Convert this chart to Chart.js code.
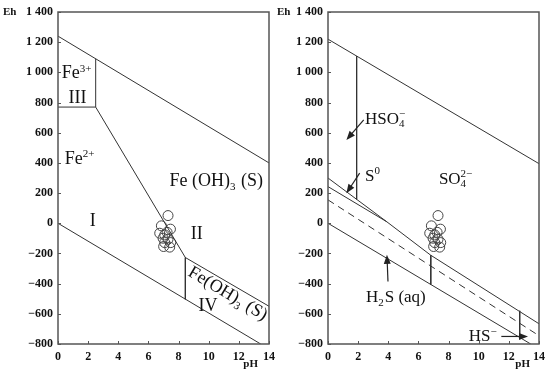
<!DOCTYPE html>
<html>
<head>
<meta charset="utf-8">
<script src="https://cdn.jsdelivr.net/npm/chart.js@4.4.1/dist/chart.umd.min.js"></script>
<style>
  html, body { margin: 0; padding: 0; background: #fff; }
  .wrap { position: relative; width: 550px; height: 379px; }
  canvas { position: absolute; top: 0; }
</style>
</head>
<body>
<div class="wrap">
  <canvas id="leftChart" width="275" height="379" style="left:0"></canvas>
  <canvas id="rightChart" width="275" height="379" style="left:275px"></canvas>
</div>
<script>
// axis ticks
const phTicks = [0, 2, 4, 6, 8, 10, 12, 14];
const ehTicks = [-800, -600, -400, -200, 0, 200, 400, 600, 800, 1000, 1200, 1400];

// sample points (pH, Eh in mV)
const samplePH = [7.3, 6.86, 7.46, 6.75, 7.08, 6.97, 7.3, 7.08, 7.48, 7.41, 7.01, 7.24];
const sampleEh = [51, -17, -39, -66, -77, -99, -106, -128, -128, -158, -154, -60];

// Fe system boundaries [pH, Eh]
const feUpperWater = [[0, 1240], [14, 400]];
const feLowerWater = [[0, 0], [13.45, -800]];
const fe3Box = [[0, 770], [2.5, 770], [2.5, 1090]];
const fe2Boundary = [[2.5, 770], [8.45, -227], [14, -550]];
const feVertical = [[8.45, -227], [8.45, -504]];

// S system boundaries [pH, Eh]
const sUpperWater = [[0, 1220], [14, 395]];
const sLowerWater = [[0, 0], [13.45, -800]];
const hso4Boundary = [[1.9, 1108], [1.9, 159]];
const s0Upper = [[0, 300], [3.9, 10]];
const s0Lower = [[0, 243], [3.9, 10], [6.82, -212], [14, -666]];
const sDashed = [[0, 155], [14, -745]];
const h2sVertical = [[6.82, -212], [6.82, -406]];
const hsVertical = [[12.72, -580], [12.72, -758]];

const LINE = '#333';
const SERIF = '"Liberation Serif", "DejaVu Serif", serif';

function lineSet(pts, dash) {
    return {
        data: pts.map(p => ({ x: p[0], y: p[1] })),
        showLine: true,
        borderColor: LINE,
        borderWidth: 1,
        borderDash: dash || [],
        pointRadius: 0,
        fill: false
    };
}

function sampleSet() {
    return {
        data: samplePH.map((x, i) => ({ x: x, y: sampleEh[i] })),
        showLine: false,
        pointRadius: 5,
        pointBorderColor: '#444',
        pointBackgroundColor: 'rgba(0,0,0,0)',
        pointBorderWidth: 1
    };
}

function fmtEh(v) {
    let s = String(Math.abs(v));
    if (s.length > 3) s = s.slice(0, -3) + ' ' + s.slice(-3);
    return (v < 0 ? '\u2212' : '') + s;
}

// text with _{sub} and ^{sup}; sub directly followed by sup is stacked
function drawRich(ctx, str, x, y, size, align) {
    const parts = [];
    let i = 0;
    while (i < str.length) {
        if ((str[i] === '_' || str[i] === '^') && str[i + 1] === '{') {
            const end = str.indexOf('}', i);
            parts.push({ t: str.slice(i + 2, end), k: str[i] });
            i = end + 1;
        } else {
            let j = i;
            while (j < str.length && !((str[j] === '_' || str[j] === '^') && str[j + 1] === '{')) j++;
            parts.push({ t: str.slice(i, j), k: 'n' });
            i = j;
        }
    }
    const big = size + 'px ' + SERIF;
    const small = Math.round(size * 0.62) + 'px ' + SERIF;
    const items = [];
    for (let k = 0; k < parts.length; k++) {
        const p = parts[k];
        if (p.k === 'n') {
            ctx.font = big;
            items.push({ w: ctx.measureText(p.t).width, segs: [{ t: p.t, f: big, dy: 0 }] });
        } else {
            ctx.font = small;
            const segs = [{ t: p.t, f: small, dy: p.k === '_' ? size * 0.22 : -size * 0.36 }];
            let w = ctx.measureText(p.t).width;
            if (p.k === '_' && parts[k + 1] && parts[k + 1].k === '^') {
                const q = parts[k + 1];
                segs.push({ t: q.t, f: small, dy: -size * 0.36 });
                w = Math.max(w, ctx.measureText(q.t).width);
                k++;
            }
            items.push({ w: w + 1, segs: segs });
        }
    }
    const total = items.reduce((a, it) => a + it.w, 0);
    let cx = align === 'left' ? x : align === 'right' ? x - total : x - total / 2;
    const base = y + size * 0.33;
    ctx.textAlign = 'left';
    ctx.textBaseline = 'alphabetic';
    items.forEach(it => {
        it.segs.forEach(s => {
            ctx.font = s.f;
            ctx.fillText(s.t, cx, base + s.dy);
        });
        cx += it.w;
    });
}

function drawArrow(ctx, x1, y1, x2, y2) {
    const a = Math.atan2(y2 - y1, x2 - x1);
    ctx.beginPath();
    ctx.moveTo(x1, y1);
    ctx.lineTo(x2 - 6 * Math.cos(a), y2 - 6 * Math.sin(a));
    ctx.stroke();
    ctx.beginPath();
    ctx.moveTo(x2, y2);
    ctx.lineTo(x2 - 9 * Math.cos(a) + 3.5 * Math.sin(a), y2 - 9 * Math.sin(a) - 3.5 * Math.cos(a));
    ctx.lineTo(x2 - 9 * Math.cos(a) - 3.5 * Math.sin(a), y2 - 9 * Math.sin(a) + 3.5 * Math.cos(a));
    ctx.closePath();
    ctx.fill();
}

function decor(cfg) {
    return {
        id: 'decor',
        afterDatasetsDraw(chart) {
            const ctx = chart.ctx;
            const a = chart.chartArea;
            const xs = chart.scales.x, ys = chart.scales.y;
            ctx.save();
            // frame
            ctx.strokeStyle = '#555';
            ctx.lineWidth = 1.5;
            ctx.strokeRect(a.left, a.top, a.right - a.left, a.bottom - a.top);
            // inward tick marks
            ctx.lineWidth = 1;
            ctx.beginPath();
            phTicks.forEach(v => {
                const px = Math.round(xs.getPixelForValue(v)) + 0.5;
                ctx.moveTo(px, a.bottom);
                ctx.lineTo(px, a.bottom - 3);
            });
            ehTicks.forEach(v => {
                const py = Math.round(ys.getPixelForValue(v)) + 0.5;
                ctx.moveTo(a.left, py);
                ctx.lineTo(a.left + 3, py);
            });
            ctx.stroke();
            // axis names
            ctx.fillStyle = '#111';
            ctx.font = 'bold 11px ' + SERIF;
            ctx.textBaseline = 'middle';
            ctx.textAlign = 'left';
            ctx.fillText('Eh', cfg.ehX, a.top);
            ctx.textAlign = 'right';
            ctx.fillText('pH', a.right - cfg.phGap, a.bottom + 20);
            // region labels
            ctx.fillStyle = '#111';
            cfg.labels.forEach(l => {
                const px = xs.getPixelForValue(l.ph), py = ys.getPixelForValue(l.eh);
                if (l.rot) {
                    ctx.save();
                    ctx.translate(px, py);
                    ctx.rotate(l.rot * Math.PI / 180);
                    drawRich(ctx, l.text, 0, 0, cfg.size, 'center');
                    ctx.restore();
                } else {
                    drawRich(ctx, l.text, px, py, cfg.size, l.align || 'center');
                }
            });
            // arrows
            ctx.strokeStyle = '#222';
            ctx.fillStyle = '#222';
            ctx.lineWidth = 1.2;
            cfg.arrows.forEach(r => {
                drawArrow(ctx, xs.getPixelForValue(r[0]), ys.getPixelForValue(r[1]),
                    xs.getPixelForValue(r[2]), ys.getPixelForValue(r[3]));
            });
            ctx.restore();
        }
    };
}

function makeChart(id, datasets, yWidth, padRight, cfg) {
    return new Chart(document.getElementById(id), {
        type: 'scatter',
        data: { datasets: datasets },
        options: {
            responsive: false,
            animation: false,
            devicePixelRatio: 1,
            layout: { padding: { top: 12, right: padRight, bottom: 0, left: 0 } },
            plugins: { legend: { display: false }, tooltip: { enabled: false } },
            scales: {
                x: {
                    type: 'linear', min: 0, max: 14,
                    grid: { display: false, drawTicks: false },
                    border: { display: false },
                    afterBuildTicks: s => { s.ticks = phTicks.map(v => ({ value: v })); },
                    afterFit: s => { s.height = 35; s.paddingLeft = 0; s.paddingRight = 0; },
                    ticks: {
                        autoSkip: false, maxRotation: 0, padding: 6, color: '#111',
                        font: { family: SERIF, size: 12, weight: 'bold' }
                    }
                },
                y: {
                    type: 'linear', min: -800, max: 1400,
                    grid: { display: false, drawTicks: false },
                    border: { display: false },
                    afterBuildTicks: s => { s.ticks = ehTicks.map(v => ({ value: v })); },
                    afterFit: s => { s.width = yWidth; s.paddingTop = 0; s.paddingBottom = 0; },
                    ticks: {
                        autoSkip: false, padding: 5, color: '#111',
                        font: { family: SERIF, size: 12, weight: 'bold' },
                        callback: v => fmtEh(v)
                    }
                }
            }
        },
        plugins: [decor(cfg)]
    });
}

makeChart('leftChart', [
    lineSet(feUpperWater), lineSet(feLowerWater), lineSet(fe3Box),
    lineSet(fe2Boundary), lineSet(feVertical), sampleSet()
], 58, 5.5, {
    ehX: 3, phGap: 11, size: 18,
    labels: [
        { text: 'Fe^{3+}', ph: 0.25, eh: 1000, align: 'left' },
        { text: 'III', ph: 1.3, eh: 837 },
        { text: 'Fe^{2+}', ph: 0.45, eh: 433, align: 'left' },
        { text: 'Fe (OH)_{3} (S)', ph: 10.5, eh: 287 },
        { text: 'I', ph: 2.3, eh: 22 },
        { text: 'II', ph: 9.2, eh: -64 },
        { text: 'IV', ph: 9.95, eh: -540 },
        { text: 'Fe(OH)_{3} (S)', ph: 11.3, eh: -461, rot: 31 }
    ],
    arrows: []
});

makeChart('rightChart', [
    lineSet(sUpperWater), lineSet(sLowerWater), lineSet(hso4Boundary),
    lineSet(s0Upper), lineSet(s0Lower), lineSet(sDashed, [7, 5]),
    lineSet(h2sVertical), lineSet(hsVertical), sampleSet()
], 53, 11, {
    ehX: 2, phGap: 9, size: 17,
    labels: [
        { text: 'HSO_{4}^{\u2212}', ph: 2.45, eh: 698, align: 'left' },
        { text: 'S^{0}', ph: 2.45, eh: 320, align: 'left' },
        { text: 'SO_{4}^{2\u2212}', ph: 8.5, eh: 300 },
        { text: 'H_{2}S (aq)', ph: 4.5, eh: -487 },
        { text: 'HS^{\u2212}', ph: 10.3, eh: -746 }
    ],
    arrows: [
        [2.37, 685, 1.22, 552],
        [2.1, 332, 1.22, 199],
        [3.98, -386, 3.91, -209],
        [11.5, -750, 13.27, -750]
    ]
});
</script>
</body>
</html>
